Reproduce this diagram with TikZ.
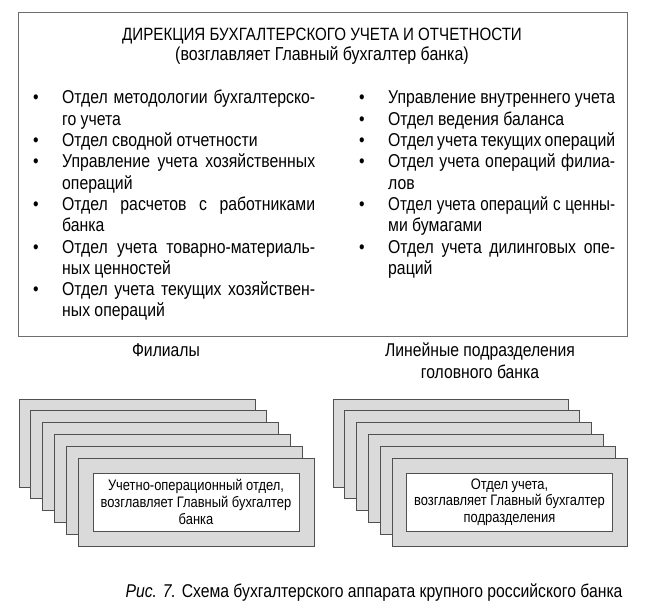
\documentclass[tikz,border=0pt]{standalone}
\usepackage{fontspec}
\usepackage{graphicx}
\setmainfont{Liberation Sans}[FakeStretch=0.85]
\usetikzlibrary{positioning}
\definecolor{randgrau}{HTML}{505050}
\definecolor{rahmengrau}{HTML}{6E6E6E}
\definecolor{kastengrau}{HTML}{DADADA}
\hyphenpenalty=10000
\exhyphenpenalty=10000
\newcommand{\engsatz}{\spaceskip=4.3pt plus 6pt minus 1.4pt\relax}
\tikzstyle{kasten} = [draw=randgrau, line width=0.9pt, fill=kastengrau, minimum height=88pt, inner sep=0pt]
\tikzstyle{innen} = [draw=randgrau, line width=0.9pt, fill=white, minimum width=206pt, minimum height=58pt, align=center, font=\fontsize{15.2}{16.7}\selectfont]
\tikzstyle{spalte} = [anchor=base west, inner sep=0pt, align=justify, font=\fontsize{18.6}{21.3}\selectfont\engsatz]
\tikzstyle{titel} = [anchor=base, inner sep=0pt, font=\fontsize{18.5}{21.5}\selectfont]
\newcommand{\punkt}[1]{\hangindent=29pt\hangafter=1\noindent\makebox[29pt][l]{\textbullet}#1\par}

\begin{document}
\begin{tikzpicture}[x=1pt, y=-1pt]
    \useasboundingbox (0,0) rectangle (646,615);
    % Direktion
    \node[draw=rahmengrau, line width=0.9pt, minimum width=609pt, minimum height=324pt, inner sep=0pt] (direktion) at (322.5,174) {};
    \node[titel, font=\fontsize{17.8}{21}\selectfont] (kopf) at (322,41) {ДИРЕКЦИЯ БУХГАЛТЕРСКОГО УЧЕТА И ОТЧЕТНОСТИ};
    \node[titel, font=\fontsize{18.8}{21}\selectfont] (leiter) at (322,61) {(возглавляет Главный бухгалтер банка)};
    
    % Abteilungen
    \node[spalte, text width=282pt] (links) at (33,104) {%
        \punkt{Отдел методологии бухгалтерско-\linebreak го учета}
        \punkt{Отдел сводной отчетности}
        \punkt{Управление учета хозяйственных\linebreak операций}
        \punkt{Отдел расчетов с работниками\linebreak банка}
        \punkt{Отдел учета товарно-материаль-\linebreak ных ценностей}
        \punkt{Отдел учета текущих хозяйствен-\linebreak ных операций}};
    \node[spalte, text width=256pt] (rechts) at (359,104) {%
        \punkt{Управление внутреннего учета}
        \punkt{Отдел ведения баланса}
        \punkt{Отдел учета текущих операций}
        \punkt{Отдел учета операций филиа-\linebreak лов}
        \punkt{\scalebox{0.962}[1]{\makebox[236pt][s]{Отдел учета операций с ценны-}}\linebreak ми бумагами}
        \punkt{Отдел учета дилинговых опе-\linebreak раций}};
    
    % Filialen
    \node[titel] (filialen) at (166,356) {Филиалы};
    \foreach \i in {0,...,5}
        \node[kasten, minimum width=236pt] (fil\i) at ({137+11.8*\i},{443+11.8*\i}) {};
    \node[innen] (filtext) at (fil5) {Учетно-операционный отдел,\\возглавляет Главный бухгалтер\\банка};
    
    % Linienabteilungen
    \node[titel, align=center] (linien) at (480,378) {Линейные подразделения\\головного банка};
    \foreach \i in {0,...,5}
        \node[kasten, minimum width=235pt] (lin\i) at ({450.5+11.8*\i},{443+11.8*\i}) {};
    \node[innen] (lintext) at (lin5) {Отдел учета,\\возглавляет Главный бухгалтер\\подразделения};
    
    % Unterschrift
    \node[titel] (unterschrift) at (374,597) {\textit{Рис. 7.} Схема бухгалтерского аппарата крупного российского банка};
\end{tikzpicture}
\end{document}
